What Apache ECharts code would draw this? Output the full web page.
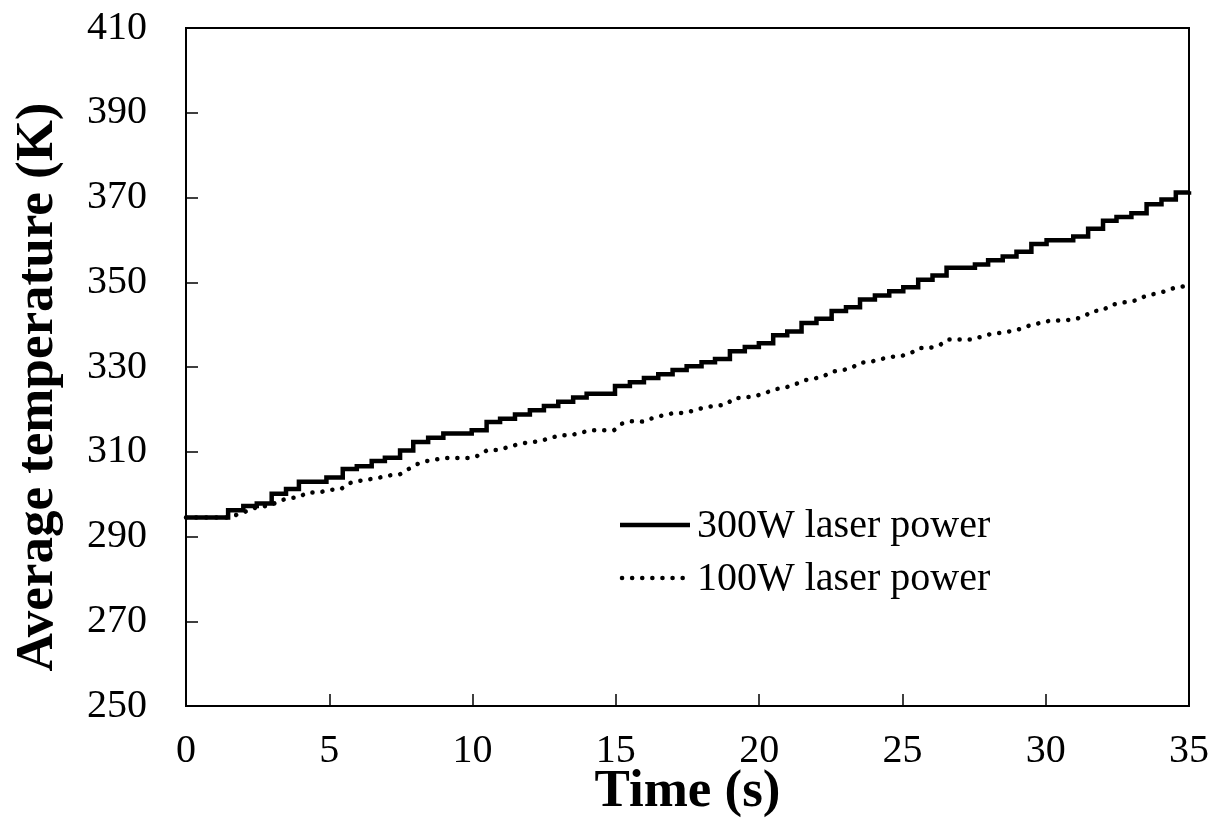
<!DOCTYPE html>
<html>
<head>
<meta charset="utf-8">
<script src="https://cdn.jsdelivr.net/npm/echarts@6/dist/echarts.min.js"></script>
<style>
html,body{margin:0;padding:0;background:#fff;}
#chart{width:1221px;height:835px;}
</style>
</head>
<body>
<div id="chart"></div>
<script>
// Time (s) at each step of the 300 W curve and temperature (K) after the step
var t300 = [0, 1.47, 2.0, 2.47, 2.99, 3.49, 3.94, 4.9, 5.47, 5.96, 6.48, 6.94, 7.47, 7.93, 8.45, 8.98, 9.97, 10.49, 10.96, 11.48, 12.0, 12.49, 12.99, 13.51, 13.98, 14.97, 15.49, 15.98, 16.48, 16.98, 17.47, 17.99, 18.46, 18.98, 19.5, 19.99, 20.49, 20.98, 21.48, 22.0, 22.53, 23.03, 23.52, 24.04, 24.54, 25.03, 25.55, 26.05, 26.54, 27.53, 27.99, 28.5, 28.98, 29.5, 30.03, 30.96, 31.48, 32.0, 32.47, 32.99, 33.52, 34.04, 34.54, 35];
var temp300 = [294.5, 296.2, 297.2, 297.8, 300.1, 301.2, 302.9, 303.9, 305.9, 306.6, 307.8, 308.6, 310.3, 312.3, 313.3, 314.3, 315.1, 317.0, 317.8, 318.8, 319.8, 320.8, 321.8, 322.8, 323.7, 325.5, 326.4, 327.4, 328.3, 329.3, 330.2, 331.1, 331.9, 333.7, 334.7, 335.6, 337.5, 338.4, 340.4, 341.4, 343.2, 344.1, 345.9, 346.9, 347.9, 348.8, 350.6, 351.6, 353.4, 354.2, 355.2, 356.1, 357.2, 359.0, 359.9, 360.8, 362.6, 364.5, 365.4, 366.3, 368.4, 369.5, 371.2, 371.5];

// 100 W curve
var t100 = [0, 1.47, 2.0, 2.23, 2.6, 2.93, 3.24, 3.57, 3.94, 4.24, 4.65, 5.0, 5.41, 5.66, 6.01, 6.4, 6.75, 7.09, 7.47, 7.76, 8.03, 8.4, 8.75, 9.1, 9.5, 9.91, 10.26, 10.51, 10.9, 11.25, 11.6, 11.94, 12.35, 12.7, 13.05, 13.43, 13.78, 14.13, 14.54, 14.94, 15.2, 15.55, 15.96, 16.3, 16.65, 17.0, 17.41, 17.76, 18.11, 18.49, 18.87, 19.1, 19.48, 19.85, 20.2, 20.52, 20.87, 21.21, 21.52, 21.87, 22.22, 22.53, 22.88, 23.23, 23.52, 23.87, 24.21, 24.59, 24.97, 25.32, 25.59, 25.96, 26.31, 26.58, 26.98, 27.39, 27.74, 28.09, 28.46, 28.83, 29.18, 29.51, 29.83, 30.18, 30.58, 30.98, 31.37, 31.6, 31.97, 32.27, 32.59, 33.0, 33.23, 33.52, 33.84, 34.19, 34.54, 34.89, 35];
var temp100 = [294.5, 294.5, 295.6, 296.4, 297.1, 297.2, 298.4, 299.0, 299.3, 300.4, 300.4, 301.0, 301.2, 302.5, 303.1, 303.5, 303.9, 304.4, 304.7, 305.9, 307.0, 307.8, 308.2, 308.5, 308.5, 308.5, 309.2, 310.4, 310.4, 311.1, 311.8, 312.2, 312.5, 313.2, 313.9, 313.9, 314.5, 315.1, 315.1, 315.1, 316.6, 317.2, 317.1, 318.0, 318.6, 319.1, 319.2, 319.8, 320.5, 320.8, 321.2, 322.6, 322.8, 323.1, 323.8, 324.7, 325.1, 325.7, 326.8, 327.2, 327.7, 328.9, 329.2, 329.8, 331.0, 331.2, 331.8, 332.4, 332.6, 333.4, 334.5, 334.5, 335.2, 336.5, 336.5, 336.5, 337.1, 337.8, 338.1, 338.5, 339.1, 340.0, 340.4, 341.0, 341.0, 341.2, 342.0, 343.2, 343.3, 344.6, 345.1, 345.5, 345.9, 346.9, 347.3, 347.9, 348.8, 349.1, 349.2];

var seriesNames = ['300W laser power', '100W laser power'];
var xTitle = 'Time (s)';
var yTitle = 'Average temperature (K)';

function zip(a, b) { return a.map(function (v, i) { return [v, b[i]]; }); }

var FONT = '"Liberation Serif", "Times New Roman", serif';
var SOLID = { color: '#000', width: 4.5, join: 'miter' };
var DOTTED = { color: '#000', width: 4.5, type: [0.1, 10], cap: 'round' };

var chart = echarts.init(document.getElementById('chart'), null, { renderer: 'canvas' });
chart.setOption({
  animation: false,
  backgroundColor: '#fff',
  textStyle: { fontFamily: FONT, color: '#000' },
  grid: { left: 186, right: 32, top: 28, bottom: 129, show: true, borderColor: '#000', borderWidth: 2, backgroundColor: 'transparent' },
  graphic: [
    { type: 'line', shape: { x1: 620, y1: 525, x2: 690, y2: 525 }, style: { stroke: '#000', lineWidth: 4.5 } },
    { type: 'text', left: 697, top: 506, style: { text: seriesNames[0], font: '40px ' + FONT, fill: '#000' } },
    { type: 'line', shape: { x1: 622, y1: 578, x2: 684, y2: 578 }, style: { stroke: '#000', lineWidth: 4.5, lineDash: [0.1, 10], lineCap: 'round' } },
    { type: 'text', left: 697, top: 559, style: { text: seriesNames[1], font: '40px ' + FONT, fill: '#000' } }
  ],
  xAxis: {
    type: 'value', min: 0, max: 35, interval: 5,
    name: xTitle, nameLocation: 'middle', nameGap: 60, nameMoveOverlap: false,
    nameTextStyle: { fontFamily: FONT, fontSize: 53, fontWeight: 'bold', color: '#000' },
    axisLine: { show: true, lineStyle: { color: '#000', width: 2 } },
    axisTick: { show: true, inside: true, length: 12, lineStyle: { color: '#000', width: 1.5 } },
    axisLabel: { fontFamily: FONT, fontSize: 40, color: '#000', margin: 25 },
    splitLine: { show: false }
  },
  yAxis: {
    type: 'value', min: 250, max: 410, interval: 20,
    name: yTitle, nameLocation: 'middle', nameGap: 121, nameRotate: 90, nameMoveOverlap: false,
    nameTextStyle: { fontFamily: FONT, fontSize: 53, fontWeight: 'bold', color: '#000', padding: [0, 40, 0, 0] },
    axisLine: { show: true, lineStyle: { color: '#000', width: 2 } },
    axisTick: { show: true, inside: true, length: 12, lineStyle: { color: '#000', width: 1.5 } },
    axisLabel: { fontFamily: FONT, fontSize: 40, color: '#000', margin: 39 },
    splitLine: { show: false }
  },
  series: [
    {
      name: seriesNames[0], type: 'line', step: 'end', showSymbol: false, symbol: 'none',
      data: zip(t300, temp300),
      lineStyle: SOLID,
      itemStyle: { color: '#000' }
    },
    {
      name: seriesNames[1], type: 'line', showSymbol: false, symbol: 'none',
      data: zip(t100, temp100),
      lineStyle: DOTTED,
      itemStyle: { color: '#000' }
    }
  ]
});
</script>
</body>
</html>
